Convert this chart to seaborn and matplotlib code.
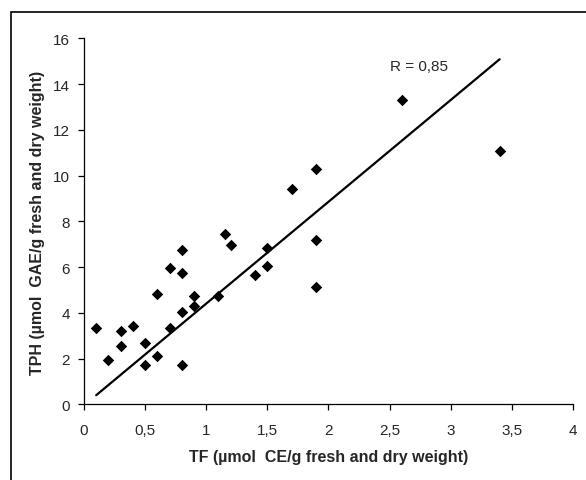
import matplotlib
matplotlib.use("Agg")
import matplotlib.pyplot as plt
import matplotlib.ticker as ticker
from matplotlib.patches import Rectangle
import numpy as np
import pandas as pd
import seaborn as sns

sns.set_style("white")
plt.rcParams['font.family'] = ['Liberation Sans', 'DejaVu Sans']

# TF vs TPH values
tf = [0.1, 0.2, 0.3, 0.3, 0.4, 0.5, 0.5, 0.6, 0.6, 0.7, 0.7, 0.8, 0.8, 0.8, 0.8,
      0.9, 0.9, 1.1, 1.15, 1.2, 1.4, 1.5, 1.5, 1.7, 1.9, 1.9, 1.9, 2.6, 3.4]
tph = [3.35, 1.95, 3.2, 2.55, 3.45, 2.7, 1.72, 4.85, 2.1, 5.95, 3.35, 6.75, 5.75, 4.05, 1.72,
       4.75, 4.3, 4.75, 7.45, 6.95, 5.65, 6.85, 6.05, 9.4, 10.3, 7.2, 5.15, 13.3, 11.1]
# trend line as printed in the figure
trend_slope = 4.45
trend_intercept = -0.04
r_label = "R = 0,85"

df = pd.DataFrame({"TF": tf, "TPH": tph})

line_x = np.array([df["TF"].min(), df["TF"].max()])
df_line = pd.DataFrame({"TF": line_x, "TPH": trend_intercept + trend_slope * line_x})

fig = plt.figure(figsize=(5.86, 4.81), dpi=100)
ax = fig.add_axes([0.1433, 0.157, 0.8345, 0.761])

# outer frame (partially cut by the image edge)
fig.patches.append(Rectangle((11 / 586, -0.1), 1.2, 1 - 13 / 481 + 0.1, transform=fig.transFigure,
                             fill=False, edgecolor='black', linewidth=1.2))

sns.scatterplot(data=df, x="TF", y="TPH", ax=ax, marker="D", color="black",
                s=34, linewidth=0)
sns.lineplot(data=df_line, x="TF", y="TPH", ax=ax, color="black", linewidth=1.6)

ax.set_xlim(0, 4)
ax.set_ylim(0, 16)
ax.xaxis.set_major_locator(ticker.MultipleLocator(0.5))
ax.yaxis.set_major_locator(ticker.MultipleLocator(2))
comma = ticker.FuncFormatter(lambda v, p: ('%g' % v).replace('.', ','))
ax.xaxis.set_major_formatter(comma)
ax.yaxis.set_major_formatter(comma)

for side in ['top', 'right']:
    ax.spines[side].set_visible(False)
for side in ['left', 'bottom']:
    ax.spines[side].set_color('black')
    ax.spines[side].set_linewidth(0.9)
ax.tick_params(axis='both', direction='out', length=4, width=0.9, color='black',
               labelsize=11, left=True, bottom=True)
ax.tick_params(axis='x', pad=9)
ax.tick_params(axis='y', pad=6)

ax.set_xlabel("TF (µmol  CE/g fresh and dry weight)", fontsize=11.5, fontweight='bold', labelpad=9)
ax.set_ylabel("TPH (µmol  GAE/g fresh and dry weight)", fontsize=11.5, fontweight='bold', labelpad=6)

ax.text(2.74, 14.8, r_label, fontsize=11, ha='center', va='center')

plt.savefig("out.png", dpi=100)
